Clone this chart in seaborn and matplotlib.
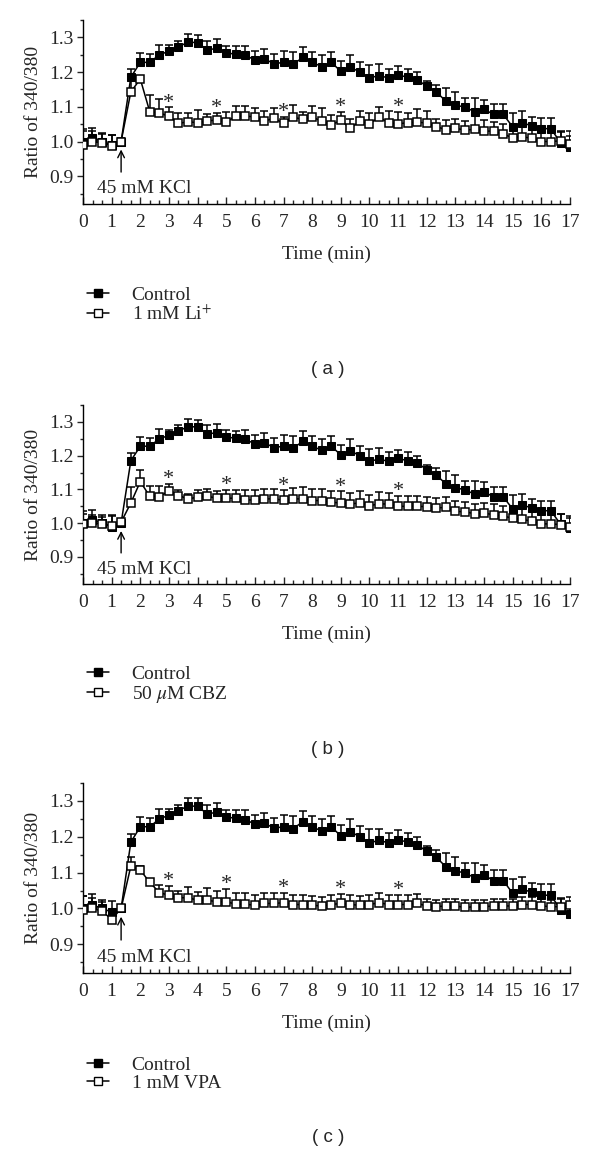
import numpy as np
import pandas as pd
import matplotlib
matplotlib.use("Agg")
import matplotlib.pyplot as plt
import seaborn as sns
from matplotlib.lines import Line2D
from matplotlib.ticker import MultipleLocator

sns.set_theme(style="ticks")
plt.rcParams['font.family'] = ['Liberation Serif', 'DejaVu Serif']
plt.rcParams['mathtext.fontset'] = 'stix'

# --- dados ---
time = [0, 0.33, 0.67, 1, 1.33, 1.67, 2, 2.33, 2.67, 3, 3.33, 3.67, 4, 4.33, 4.67, 5, 5.33, 5.67,
        6, 6.33, 6.67, 7, 7.33, 7.67, 8, 8.33, 8.67, 9, 9.33, 9.67, 10, 10.33, 10.67, 11, 11.33, 11.67,
        12, 12.33, 12.67, 13, 13.33, 13.67, 14, 14.33, 14.67, 15, 15.33, 15.67, 16, 16.33, 16.67, 17]

control = [1.0, 1.01, 1.0, 0.99, 1.0, 1.185, 1.228, 1.228, 1.25, 1.26, 1.273, 1.286, 1.285, 1.264,
           1.268, 1.256, 1.251, 1.248, 1.235, 1.238, 1.224, 1.228, 1.222, 1.242, 1.228, 1.216, 1.228,
           1.202, 1.214, 1.2, 1.183, 1.19, 1.183, 1.192, 1.185, 1.178, 1.159, 1.143, 1.116, 1.105,
           1.099, 1.086, 1.093, 1.078, 1.078, 1.042, 1.054, 1.045, 1.037, 1.037, 0.997, 0.985]
control_err = [0.035, 0.03, 0.025, 0.03, 0.01, 0.023, 0.027, 0.023, 0.028, 0.017, 0.017, 0.023, 0.022,
               0.026, 0.027, 0.019, 0.023, 0.027, 0.026, 0.029, 0.028, 0.034, 0.037, 0.031, 0.031,
               0.033, 0.029, 0.03, 0.035, 0.03, 0.038, 0.032, 0.027, 0.026, 0.025, 0.022, 0.014, 0.021,
               0.038, 0.038, 0.027, 0.04, 0.028, 0.029, 0.03, 0.041, 0.033, 0.027, 0.03, 0.03, 0.03, 0.03]

li = [0.99, 1.0, 0.997, 0.988, 1.0, 1.143, 1.18, 1.086, 1.082, 1.073, 1.052, 1.057, 1.054, 1.059,
      1.062, 1.056, 1.073, 1.073, 1.071, 1.059, 1.067, 1.052, 1.07, 1.064, 1.07, 1.059, 1.048, 1.061,
      1.038, 1.059, 1.051, 1.07, 1.054, 1.051, 1.054, 1.056, 1.053, 1.043, 1.034, 1.038, 1.033, 1.035,
      1.03, 1.03, 1.021, 1.011, 1.014, 1.009, 1.0, 1.0, 1.002, 0.994]
li_err = [0.04, 0.03, 0.025, 0.03, 0.005, 0.035, 0.01, 0.047, 0.04, 0.025, 0.03, 0.025, 0.038, 0.02,
          0.02, 0.03, 0.028, 0.028, 0.025, 0.03, 0.03, 0.02, 0.034, 0.02, 0.031, 0.038, 0.029, 0.024,
          0.026, 0.029, 0.031, 0.029, 0.035, 0.034, 0.029, 0.039, 0.034, 0.021, 0.027, 0.026, 0.026,
          0.048, 0.033, 0.027, 0.03, 0.029, 0.03, 0.036, 0.035, 0.03, 0.029, 0.036]

cbz = [0.998, 1.0, 0.998, 0.993, 1.003, 1.06, 1.123, 1.08, 1.079, 1.095, 1.082, 1.072, 1.077, 1.08,
       1.074, 1.074, 1.074, 1.069, 1.069, 1.072, 1.072, 1.068, 1.072, 1.072, 1.067, 1.067, 1.062, 1.06,
       1.057, 1.06, 1.052, 1.057, 1.057, 1.05, 1.05, 1.05, 1.049, 1.045, 1.047, 1.035, 1.034, 1.028,
       1.03, 1.025, 1.021, 1.015, 1.011, 1.006, 0.998, 0.998, 0.996, 0.99]
cbz_err = [0.03, 0.025, 0.02, 0.03, 0.005, 0.048, 0.035, 0.03, 0.03, 0.022, 0.015, 0.015, 0.02, 0.02,
           0.02, 0.025, 0.025, 0.028, 0.028, 0.03, 0.03, 0.03, 0.032, 0.034, 0.033, 0.034, 0.032,
           0.034, 0.033, 0.034, 0.032, 0.034, 0.033, 0.032, 0.03, 0.031, 0.03, 0.029, 0.03, 0.031,
           0.03, 0.029, 0.03, 0.031, 0.03, 0.029, 0.03, 0.03, 0.029, 0.03, 0.03, 0.03]

vpa = [0.995, 1.0, 0.993, 0.969, 1.0, 1.118, 1.107, 1.073, 1.044, 1.037, 1.03, 1.03, 1.023, 1.023,
       1.019, 1.019, 1.012, 1.012, 1.009, 1.014, 1.014, 1.016, 1.011, 1.011, 1.009, 1.007, 1.011,
       1.014, 1.011, 1.009, 1.011, 1.016, 1.011, 1.011, 1.011, 1.014, 1.007, 1.005, 1.007, 1.007,
       1.003, 1.005, 1.005, 1.007, 1.007, 1.007, 1.011, 1.011, 1.007, 1.005, 1.005, 1.011]
vpa_err = [0.04, 0.03, 0.025, 0.03, 0.005, 0.026, 0.012, 0.01, 0.021, 0.026, 0.02, 0.029, 0.022,
           0.033, 0.03, 0.035, 0.03, 0.03, 0.028, 0.03, 0.03, 0.028, 0.027, 0.026, 0.026, 0.026,
           0.026, 0.027, 0.026, 0.026, 0.027, 0.026, 0.026, 0.026, 0.026, 0.025, 0.02, 0.02, 0.02,
           0.02, 0.02, 0.02, 0.02, 0.02, 0.02, 0.02, 0.02, 0.02, 0.02, 0.02, 0.025, 0.02]

treat_labels = ['1 mM Li$^{+}$', '50 $\\mu$M CBZ', '1 mM VPA']
panel_labels = ['( a )', '( b )', '( c )']
star_times = [[3, 4.67, 7, 9, 11], [3, 5, 7, 9, 11], [3, 5, 7, 9, 11]]
treatments = [(li, li_err), (cbz, cbz_err), (vpa, vpa_err)]

# --- layout (pixels) ---
W, H = 600, 1151
panels_px = [(20, 204), (405, 584), (783, 973)]
FS = 14

fig = plt.figure(figsize=(W / 100, H / 100), dpi=100)

for i, (top, bottom) in enumerate(panels_px):
    ax = fig.add_axes([83 / W, 1 - bottom / H, 487 / W, (bottom - top) / H])
    vals, errs = treatments[i]
    df = pd.DataFrame({'time': time, 'control': control, 'control_err': control_err,
                       'treat': vals, 'treat_err': errs})

    # controle
    ax.errorbar(df['time'], df['control'], yerr=[np.zeros(len(df)), df['control_err']],
                fmt='none', ecolor='black', elinewidth=1.1, capsize=2.8, capthick=1.1, zorder=2)
    sns.lineplot(data=df, x='time', y='control', ax=ax, color='black', lw=1.1,
                 marker='s', markersize=6, markerfacecolor='black', markeredgecolor='black',
                 zorder=3)
    # tratamento
    ax.errorbar(df['time'], df['treat'], yerr=[np.zeros(len(df)), df['treat_err']],
                fmt='none', ecolor='black', elinewidth=1.1, capsize=2.8, capthick=1.1, zorder=4)
    sns.lineplot(data=df, x='time', y='treat', ax=ax, color='black', lw=1.1,
                 marker='s', markersize=6, markerfacecolor='white', markeredgecolor='black',
                 markeredgewidth=1.1, zorder=5)

    # asteriscos
    for t in star_times[i]:
        j = int(np.argmin(np.abs(np.array(time) - t)))
        ax.text(time[j], vals[j] + errs[j] + 0.012, '*', ha='center', va='center', fontsize=16)

    # seta KCl
    ax.annotate('', xy=(1.33, 0.977), xytext=(1.33, 0.912),
                arrowprops=dict(arrowstyle='->', color='black', lw=1, shrinkA=0, shrinkB=0))
    ax.text(2.15, 0.864, '45 mM KCl', ha='center', va='center', fontsize=FS)

    ax.set_xlim(0, 17)
    ax.set_ylim(0.82, 1.35)
    ax.xaxis.set_major_locator(MultipleLocator(1))
    ax.xaxis.set_minor_locator(MultipleLocator(1 / 3))
    ax.yaxis.set_minor_locator(MultipleLocator(0.05))
    ax.set_yticks([0.9, 1.0, 1.1, 1.2, 1.3])
    ax.set_yticklabels(['0.9', '1.0', '1.1', '1.2', '1.3'])
    ax.tick_params(axis='x', which='major', direction='in', length=5, width=1, labelsize=FS, pad=7)
    ax.tick_params(axis='x', which='minor', direction='in', length=3, width=1)
    ax.tick_params(axis='y', which='major', direction='out', length=4, width=1, labelsize=FS, pad=3)
    ax.tick_params(axis='y', which='minor', direction='out', length=2.5, width=1)
    sns.despine(ax=ax)
    for s in ['left', 'bottom']:
        ax.spines[s].set_linewidth(1)
        ax.spines[s].set_color('black')
    ax.set_xlabel('Time (min)', fontsize=FS, labelpad=11)
    ax.set_ylabel('Ratio of 340/380', fontsize=FS, labelpad=5)

    # legenda
    handles = [Line2D([], [], color='black', lw=1.1, marker='s', markersize=6,
                      markerfacecolor='black', markeredgecolor='black'),
               Line2D([], [], color='black', lw=1.1, marker='s', markersize=6,
                      markerfacecolor='white', markeredgecolor='black')]
    fig.legend(handles, ['Control', treat_labels[i]], loc='center left',
               bbox_to_anchor=(87 / W, 1 - (bottom + 101) / H), frameon=False,
               fontsize=FS, handlelength=1.15, handletextpad=1.15, labelspacing=0.05,
               borderaxespad=0, borderpad=0)

    fig.text(328 / W, 1 - (bottom + 165) / H, panel_labels[i], ha='center', va='center',
             fontsize=13.5, family=['Liberation Sans', 'DejaVu Sans'])

fig.savefig('out.png', dpi=100)
